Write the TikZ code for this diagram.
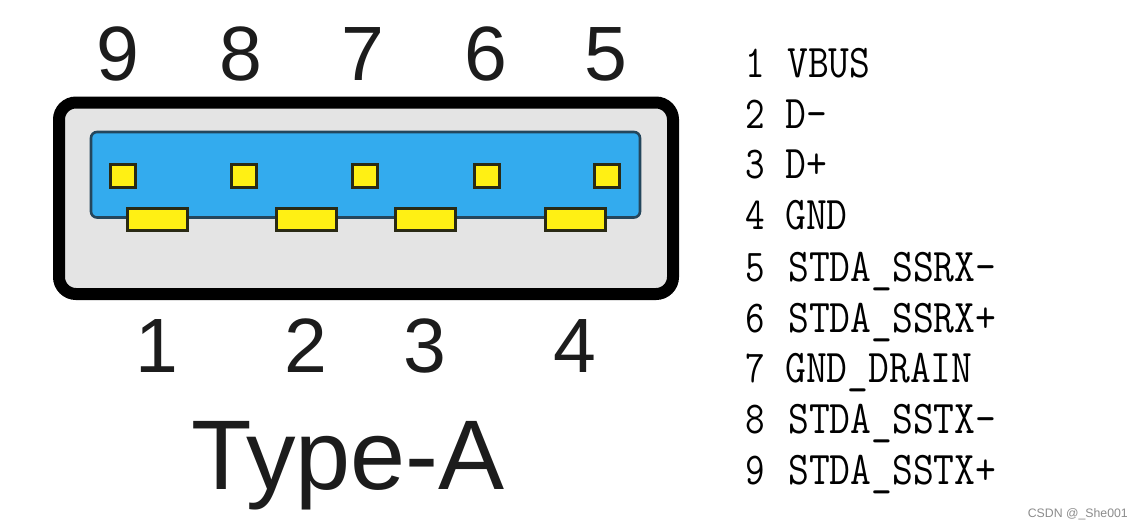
\documentclass[tikz,border=0pt]{standalone}
\usepackage{fontspec}
\setmainfont{Liberation Sans}
\setmonofont{Latin Modern Mono}
\definecolor{shell}{HTML}{E4E4E4}
\definecolor{tongue}{HTML}{33ABEE}
\definecolor{tongueedge}{HTML}{24465C}
\definecolor{pin}{HTML}{FFF014}
\definecolor{pinedge}{HTML}{2A2A14}
\definecolor{bigtext}{HTML}{1C1C1C}
\tikzset{
  x=1pt,y=-1pt,
  shellbox/.style={draw=black,fill=shell,line width=12pt,rounded corners=17pt},
  tonguebox/.style={draw=tongueedge,fill=tongue,line width=2.6pt,rounded corners=6pt},
  smallpin/.style={draw=pinedge,fill=pin,line width=3pt,minimum width=25pt,minimum height=23pt,inner sep=0pt},
  longpin/.style={draw=pinedge,fill=pin,line width=3pt,minimum width=60pt,minimum height=22pt,inner sep=0pt},
  pinnum/.style={font=\fontsize{77}{77}\selectfont,text=bigtext,inner sep=0pt,anchor=base},
  idx/.style={font=\ttfamily\fontsize{38}{38}\selectfont,yscale=1.2,inner sep=0pt,anchor=base},
  lbl/.style={font=\ttfamily\fontsize{40.4}{40.4}\selectfont,yscale=1.16,inner sep=0pt,anchor=base west},
}
\begin{document}
\begin{tikzpicture}
\useasboundingbox (0,0) rectangle (1144,528);
\fill[white] (0,0) rectangle (1144,528);
\path[shellbox] (59,102.5) rectangle (673,294);
\path[tonguebox] (91,132) rectangle (640,217.5);
\node[smallpin] (p9) at (123,176) {};
\node[smallpin] (p8) at (244,176) {};
\node[smallpin] (p7) at (365,176) {};
\node[smallpin] (p6) at (487,176) {};
\node[smallpin] (p5) at (607,176) {};
\node[longpin] (p1) at (157,219.5) {};
\node[longpin] (p2) at (306,219.5) {};
\node[longpin] (p3) at (425,219.5) {};
\node[longpin] (p4) at (575,219.5) {};
\node[pinnum] (n9) at (118,80) {9};
\node[pinnum] (n8) at (241,80) {8};
\node[pinnum] (n7) at (363,80) {7};
\node[pinnum] (n6) at (486,80) {6};
\node[pinnum] (n5) at (606,80) {5};
\node[pinnum] (n1) at (157,372) {1};
\node[pinnum] (n2) at (306,372) {2};
\node[pinnum] (n3) at (425,372) {3};
\node[pinnum] (n4) at (575,372) {4};
\node[font=\fontsize{99}{99}\selectfont,text=bigtext,inner sep=0pt,anchor=base] (title) at (348,489) {Type-A};
\node[idx] (i1) at (755,77) {1};
\node[idx] (i2) at (755,128) {2};
\node[idx] (i3) at (755,178) {3};
\node[idx] (i4) at (755,229) {4};
\node[idx] (i5) at (755,281) {5};
\node[idx] (i6) at (755,332) {6};
\node[idx] (i7) at (755,382) {7};
\node[idx] (i8) at (755,433) {8};
\node[idx] (i9) at (755,484) {9};
\node[lbl] (l1) at (787,77) {VBUS};
\node[lbl] (l2) at (785,128) {D-};
\node[lbl] (l3) at (785,178) {D+};
\node[lbl] (l4) at (785,229) {GND};
\node[lbl] (l5) at (788,281) {STDA\_SSRX-};
\node[lbl] (l6) at (788,332) {STDA\_SSRX+};
\node[lbl] (l7) at (785,382) {GND\_DRAIN};
\node[lbl] (l8) at (788,433) {STDA\_SSTX-};
\node[lbl] (l9) at (788,484) {STDA\_SSTX+};
\node[font=\fontsize{12.3}{14}\selectfont,text=black!45,inner sep=0pt,anchor=base east] (mark) at (1128,517) {CSDN @\_She001};
\end{tikzpicture}
\end{document}
